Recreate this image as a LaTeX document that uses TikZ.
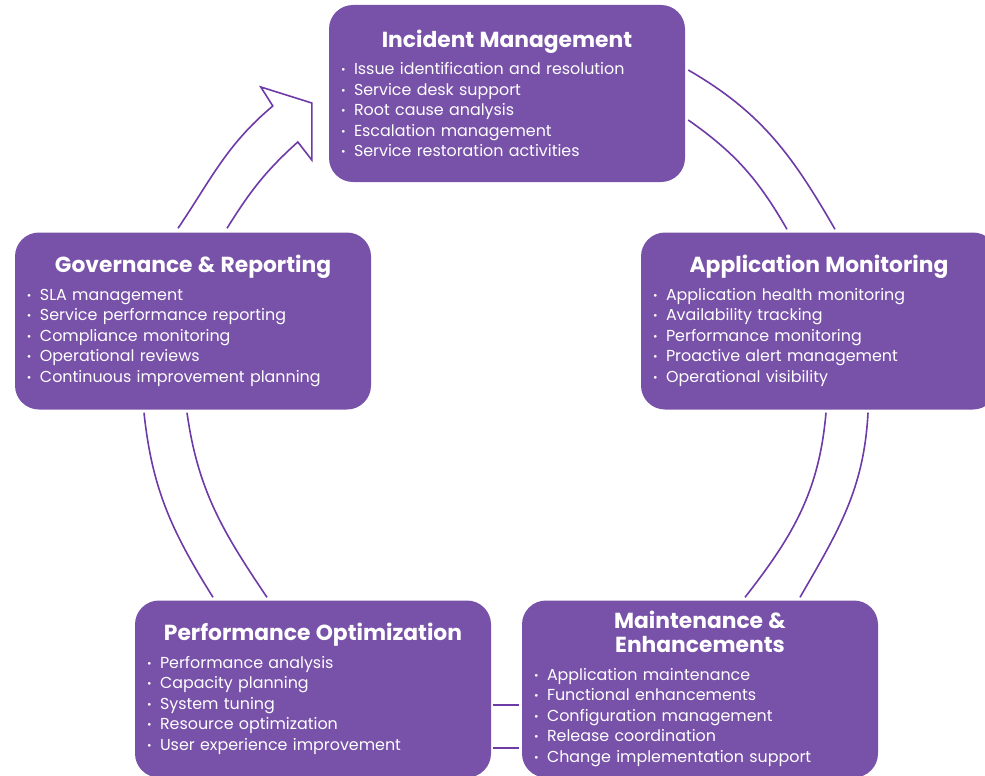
\documentclass[tikz,border=0pt]{standalone}
\usepackage{fontspec}
\setmainfont{Poppins}
\usetikzlibrary{positioning,calc}
\definecolor{cardPurple}{RGB}{120,81,169}
\definecolor{ringPurple}{RGB}{110,58,168}
\newcommand{\itm}[1]{\makebox[13pt][l]{\raisebox{1pt}{\fontsize{11}{11}\selectfont\textbullet}}#1}
\newcommand{\cardTitle}[1]{{\centering\fontsize{21.8}{24}\selectfont\bfseries #1\par}\vspace{7pt}}

\begin{document}
\begin{tikzpicture}[x=1pt,y=1pt,every text node part/.style={align=left}]
\tikzset{myFont/.style={font=\fontsize{15.9}{20.5}\selectfont}}
\tikzset{myCard/.style={fill=cardPurple,text=white,rounded corners=24pt,minimum width=356pt,minimum height=177pt,text width=332pt,inner xsep=12pt,inner ysep=0pt,myFont}}
\tikzset{myRing/.style={draw=ringPurple,line width=1.6pt}}

\useasboundingbox (0,0) rectangle (985,-776);

\node[myCard] (inc) at (507,-93.5) {\cardTitle{Incident Management}
\itm{Issue identification and resolution}\\
\itm{Service desk support}\\
\itm{Root cause analysis}\\
\itm{Escalation management}\\
\itm{Service restoration activities}};
\node[myCard,on grid,below left=227.5pt and 314pt of inc] (gov) {\cardTitle{Governance \& Reporting}
\itm{SLA management}\\
\itm{Service performance reporting}\\
\itm{Compliance monitoring}\\
\itm{Operational reviews}\\
\itm{Continuous improvement planning}};
\node[myCard,on grid,below right=227.5pt and 312pt of inc] (mon) {\cardTitle{Application Monitoring}
\itm{Application health monitoring}\\
\itm{Availability tracking}\\
\itm{Performance monitoring}\\
\itm{Proactive alert management}\\
\itm{Operational visibility}};
\node[myCard,on grid,below right=368pt and 120pt of gov] (perf) {\cardTitle{Performance Optimization}
\itm{Performance analysis}\\
\itm{Capacity planning}\\
\itm{System tuning}\\
\itm{Resource optimization}\\
\itm{User experience improvement}};
\node[myCard,on grid,right=387pt of perf] (mai) {\cardTitle{Maintenance \&\\Enhancements}
\itm{Application maintenance}\\
\itm{Functional enhancements}\\
\itm{Configuration management}\\
\itm{Release coordination}\\
\itm{Change implementation support}};

\path[myRing] ([shift={(3,23.5)}]inc.east) edge[out=-30,in=120] ([shift={(16,3)}]mon.north);
\path[myRing] ([shift={(3,-26.5)}]inc.east) edge[out=-35,in=120] ([shift={(-32,3)}]mon.north);

\path[myRing] ([shift={(49,-3)}]mon.south) edge[out=-93,in=60] ([shift={(100,3)}]mai.north);
\path[myRing] ([shift={(7,-3)}]mon.south) edge[out=-95,in=52] ([shift={(45,3)}]mai.north);

\path[myRing] ([shift={(-3,-16)}]mai.west) edge ([shift={(2,-16)}]perf.east);
\path[myRing] ([shift={(-3,-59)}]mai.west) edge ([shift={(2,-59)}]perf.east);

\path[myRing] ([shift={(-100,3)}]perf.north) edge[out=122,in=-84] ([shift={(-49,-3)}]gov.south);
\path[myRing] ([shift={(-46,3)}]perf.north) edge[out=124,in=-82] ([shift={(-6,-3)}]gov.south);

\coordinate (headA) at ([shift={(-56,-12.5)}]inc.west);
\coordinate (headB) at ([shift={(-68,6.5)}]inc.west);
\coordinate (headTip) at ([shift={(-17,-9.5)}]inc.west);
\coordinate (headC) at ([shift={(-17,-66.5)}]inc.west);
\coordinate (headD) at ([shift={(-31,-48.5)}]inc.west);
\draw[myRing,line join=miter] ([shift={(-15,4)}]gov.north) to[out=56,in=-140] (headA) -- (headB) -- (headTip) -- (headC) -- (headD) to[out=-138,in=58] ([shift={(34,4)}]gov.north);

\end{tikzpicture}
\end{document}
